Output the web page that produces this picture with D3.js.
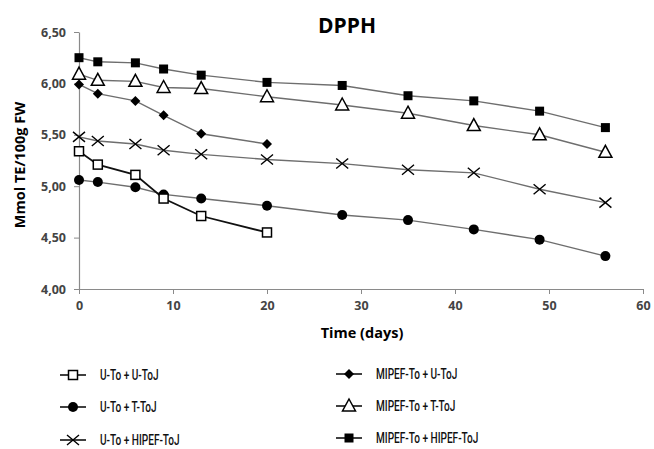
<!DOCTYPE html>
<html>
<head>
<meta charset="utf-8">
<script src="https://cdn.jsdelivr.net/npm/d3@7"></script>
<style>
  body { margin: 0; background: #fff; }
  #chart text { font-family: "Open Sans", "DejaVu Sans", sans-serif; }
  #chart .legend text { font-family: Roboto, "Liberation Sans", sans-serif; }
</style>
</head>
<body>
<div id="chart"></div>
<script>
// ---- data ----
const days = [0, 2, 6, 9, 13, 20, 28, 35, 42, 49, 56];

const uToUToJ = [5.34, 5.21, 5.11, 4.88, 4.71, 4.55];
const uToTToJ = [5.06, 5.04, 4.99, 4.92, 4.88, 4.81, 4.72, 4.67, 4.58, 4.48, 4.32];
const uToHipefToJ = [5.48, 5.44, 5.41, 5.35, 5.31, 5.26, 5.22, 5.16, 5.13, 4.97, 4.84];
const mipefToUToJ = [5.99, 5.90, 5.83, 5.69, 5.51, 5.41];
const mipefToTToJ = [6.09, 6.03, 6.02, 5.96, 5.95, 5.87, 5.79, 5.71, 5.59, 5.50, 5.33];
const mipefToHipefToJ = [6.25, 6.21, 6.20, 6.14, 6.08, 6.01, 5.98, 5.88, 5.83, 5.73, 5.57];

const seriesNames = [
  'U-To + U-ToJ', 'U-To + T-ToJ', 'U-To + HIPEF-ToJ',
  'MIPEF-To + U-ToJ', 'MIPEF-To + T-ToJ', 'MIPEF-To + HIPEF-ToJ'
];
const yTicks = [4.0, 4.5, 5.0, 5.5, 6.0, 6.5];
const xTicks = [0, 10, 20, 30, 40, 50, 60];

// ---- setup ----
const W = 654, H = 449;
const plot = { left: 79, right: 643, top: 32, bottom: 289 };

const svg = d3.select('#chart').append('svg')
  .attr('width', W).attr('height', H);

const x = d3.scaleLinear().domain([0, 60]).range([plot.left, plot.right]);
const y = d3.scaleLinear().domain([4, 6.5]).range([plot.bottom, plot.top]);

const fmt = (d) => d3.format('.2f')(d).replace('.', ',');

// axes
const yAxis = svg.append('g')
  .attr('transform', `translate(${plot.left},0)`)
  .call(d3.axisLeft(y).tickValues(yTicks).tickFormat(fmt).tickSize(5).tickSizeOuter(0));
const xAxis = svg.append('g')
  .attr('transform', `translate(0,${plot.bottom})`)
  .call(d3.axisBottom(x).tickValues(xTicks).tickSize(5).tickSizeOuter(0));

[yAxis, xAxis].forEach((a) => {
  a.select('.domain').attr('stroke', '#8a8a8a').attr('stroke-width', 1.2);
  a.selectAll('.tick line').attr('stroke', '#8a8a8a');
  a.selectAll('.tick text')
    .attr('fill', '#444').attr('font-size', 12.5).attr('font-weight', 700)
    .style('font-family', '"Open Sans", sans-serif');
});
yAxis.selectAll('.tick text').attr('x', -13);
xAxis.selectAll('.tick text').attr('y', 12);

// titles
svg.append('text').attr('x', 347).attr('y', 33)
  .attr('text-anchor', 'middle').attr('font-size', 21).attr('font-weight', 700)
  .text('DPPH');
svg.append('text').attr('x', 362).attr('y', 338)
  .attr('text-anchor', 'middle').attr('font-size', 14.5).attr('font-weight', 700)
  .text('Time (days)');
svg.append('text')
  .attr('transform', `translate(25,165) rotate(-90)`)
  .attr('text-anchor', 'middle').attr('font-size', 14.5).attr('font-weight', 700)
  .text('Mmol TE/100g FW');

// ---- markers ----
function drawMarker(g, type, cx, cy) {
  if (type === 'openSquare') {
    g.append('rect').attr('x', cx - 4.5).attr('y', cy - 4.5).attr('width', 9).attr('height', 9)
      .attr('fill', '#fff').attr('stroke', '#000').attr('stroke-width', 1.5);
  } else if (type === 'circle') {
    g.append('circle').attr('cx', cx).attr('cy', cy).attr('r', 5).attr('fill', '#000');
  } else if (type === 'cross') {
    g.append('path')
      .attr('d', `M${cx - 6},${cy - 5}L${cx + 6},${cy + 5}M${cx - 6},${cy + 5}L${cx + 6},${cy - 5}`)
      .attr('stroke', '#000').attr('stroke-width', 1.4).attr('fill', 'none');
  } else if (type === 'diamond') {
    g.append('path')
      .attr('d', `M${cx},${cy - 5}L${cx + 5},${cy}L${cx},${cy + 5}L${cx - 5},${cy}Z`)
      .attr('fill', '#000');
  } else if (type === 'triangle') {
    g.append('path')
      .attr('d', `M${cx},${cy - 7}L${cx + 6.5},${cy + 5}L${cx - 6.5},${cy + 5}Z`)
      .attr('fill', '#fff').attr('stroke', '#000').attr('stroke-width', 1.5);
  } else if (type === 'square') {
    g.append('rect').attr('x', cx - 4.5).attr('y', cy - 4.5).attr('width', 9).attr('height', 9)
      .attr('fill', '#000');
  }
}

const series = [
  { name: seriesNames[0], values: uToUToJ, marker: 'openSquare', color: '#111', width: 1.8 },
  { name: seriesNames[1], values: uToTToJ, marker: 'circle', color: '#6e6e6e', width: 1.4 },
  { name: seriesNames[2], values: uToHipefToJ, marker: 'cross', color: '#6e6e6e', width: 1.4 },
  { name: seriesNames[3], values: mipefToUToJ, marker: 'diamond', color: '#6e6e6e', width: 1.4 },
  { name: seriesNames[4], values: mipefToTToJ, marker: 'triangle', color: '#6e6e6e', width: 1.4 },
  { name: seriesNames[5], values: mipefToHipefToJ, marker: 'square', color: '#6e6e6e', width: 1.4 }
];

const line = d3.line().x((d) => x(d[0])).y((d) => y(d[1]));

// draw lines first, then markers on top
const linesG = svg.append('g');
const marksG = svg.append('g');
// black U-To + U-ToJ line drawn after the others
[1, 2, 3, 4, 5, 0].forEach((i) => {
  const s = series[i];
  const pts = s.values.map((v, j) => [days[j], v]);
  linesG.append('path').datum(pts).attr('d', line)
    .attr('fill', 'none').attr('stroke', s.color).attr('stroke-width', s.width);
});
[1, 2, 3, 4, 5, 0].forEach((i) => {
  const s = series[i];
  s.values.forEach((v, j) => drawMarker(marksG, s.marker, x(days[j]), y(v)));
});

// ---- legend ----
const legend = svg.append('g').attr('class', 'legend');
const legPos = [
  [73, 375], [73, 407], [73, 440],
  [349, 374], [349, 406], [349, 438]
];
series.forEach((s, i) => {
  const [lx, ly] = legPos[i];
  legend.append('line').attr('x1', lx - 13).attr('x2', lx + 13).attr('y1', ly).attr('y2', ly)
    .attr('stroke', '#000').attr('stroke-width', 1.5);
  drawMarker(legend, s.marker, lx, ly);
  // condensed look of the original legend font
  legend.append('text')
    .attr('transform', `translate(${lx + 27},${ly + 5}) scale(0.72,1)`)
    .attr('font-size', 14).attr('font-weight', 500).attr('fill', '#111').text(s.name);
});
</script>
</body>
</html>
